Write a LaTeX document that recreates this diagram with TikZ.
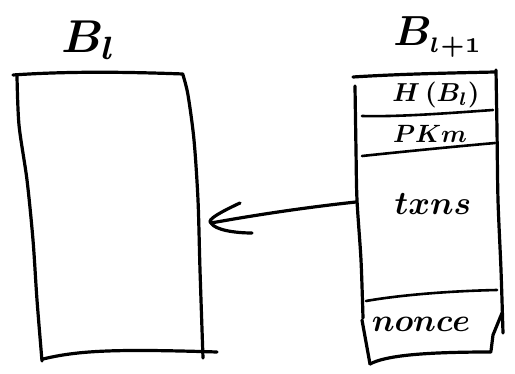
\documentclass[tikz,border=0pt]{standalone}
\usepackage{graphicx}
\usepackage{amsmath}
\usetikzlibrary{arrows.meta}
\begin{document}
\begin{tikzpicture}[x=1pt,y=-1pt,
  pen/.style={line width=3.2pt,line cap=round,line join=round},
  thin pen/.style={line width=2.6pt,line cap=round,line join=round},
  field/.style={inner sep=0pt}]
\useasboundingbox[fill=white] (0,0) rectangle (515,374);

% ---- block B_l ----
\draw[pen] (13,75) .. controls (70,71) and (130,72) .. (183,74);
\draw[pen] plot[smooth] coordinates {(17,76) (19,125) (27,180) (33,240) (37,300) (42,361)};
\draw[pen] plot[smooth] coordinates {(183,75) (188,95) (194,140) (198,200) (200,270) (203,358)};
\draw[pen] (43,359) .. controls (80,350) and (120,349) .. (217,352);
\node[field] (tl) at (89,40) {\scalebox{4.6}{$\boldsymbol{B_l}$}};

% ---- block B_{l+1} ----
\draw[pen] (353,77) .. controls (400,74) and (450,73) .. (495,72);
\draw[pen] plot[smooth] coordinates {(355,86) (356,150) (357,200) (361,260) (363,318)};
\draw[pen] (362,320) -- (370,364);
\draw[pen] plot[smooth] coordinates {(496,70) (497,130) (498,200) (501,270) (503,333)};
\draw[pen] (502,313) -- (493,335) -- (491,351);
\draw[pen] (370,364) .. controls (385,356) and (420,352) .. (491,352);
% field separators
\draw[thin pen] (362,116) .. controls (400,117) and (450,113) .. (493,110);
\draw[thin pen] (362,156) .. controls (400,152) and (450,147) .. (495,143);
\draw[thin pen] (366,301) .. controls (400,295) and (450,291) .. (497,290);
\node[field] (tr) at (438,37) {\scalebox{4.2}{$\boldsymbol{B_{\scriptscriptstyle l+1}}$}};

% field contents
\node[field] (fh) at (436,95) {\scalebox{2.6}{$\boldsymbol{H\,(B_l)}$}};
\node[field] (fp) at (430,134) {\scalebox{2.5}{$\boldsymbol{PKm}$}};
\node[field] (ft) at (433,204) {\scalebox{3.3}{$\boldsymbol{txns}$}};
\node[field] (fn) at (421,324) {\scalebox{3.2}{$\boldsymbol{nonce}$}};

% ---- link from B_{l+1} back to B_l ----
\coordinate (src) at (356,202);
\coordinate (dst) at (211,223);
\draw[pen] (src) .. controls (300,208) and (250,216) .. (dst);
\draw[pen] (240,203) .. controls (225,210) and (205,220) .. (dst)
           .. controls (215,230) and (235,233) .. (252,233);
\end{tikzpicture}
\end{document}
